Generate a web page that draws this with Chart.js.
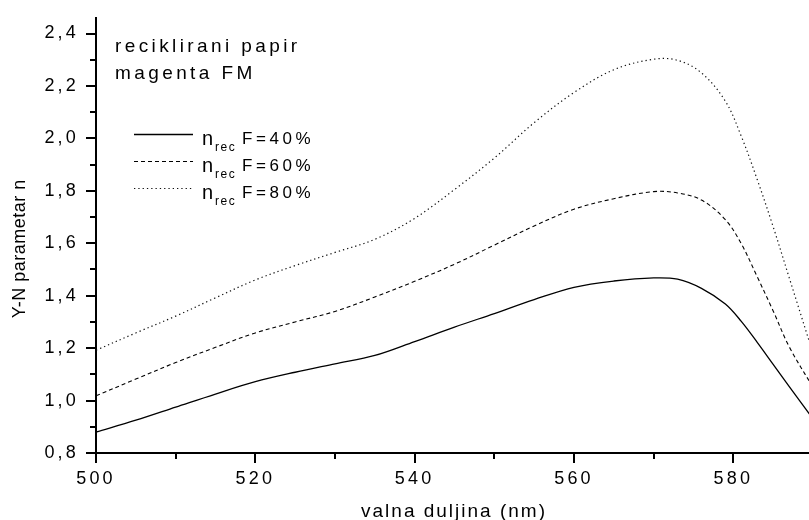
<!DOCTYPE html>
<html>
<head>
<meta charset="utf-8">
<script src="https://cdn.jsdelivr.net/npm/chart.js@4.4.1/dist/chart.umd.min.js"></script>
<style>
  html, body { margin: 0; padding: 0; background: #fff; overflow: hidden; }
  #graf { display: block; }
</style>
</head>
<body>
<canvas id="graf" width="813" height="520"></canvas>
<script>
  // valna duljina (nm)
  var valna = [500, 505, 510, 515, 520, 525, 530, 535, 540, 545, 550, 555, 560, 565, 570, 573, 576, 579, 581, 583, 585, 587, 590]

  // Y-N parametar n za F = 40%, 60%, 80%
  var n40 = [0.880, 0.925, 0.975, 1.025, 1.072, 1.108, 1.140, 1.172, 1.225, 1.280, 1.332, 1.385, 1.432, 1.456, 1.468, 1.463, 1.428, 1.368, 1.302, 1.222, 1.138, 1.054, 0.930]
  var n60 = [1.018, 1.082, 1.145, 1.203, 1.258, 1.300, 1.340, 1.395, 1.455, 1.520, 1.593, 1.666, 1.730, 1.770, 1.797, 1.792, 1.765, 1.690, 1.598, 1.472, 1.342, 1.206, 1.050]
  var n80 = [1.192, 1.258, 1.322, 1.392, 1.460, 1.515, 1.565, 1.615, 1.695, 1.805, 1.925, 2.060, 2.175, 2.262, 2.302, 2.298, 2.250, 2.142, 2.008, 1.843, 1.663, 1.470, 1.180]

  var oznake = ['F=40%', 'F=60%', 'F=80%']
  var naslov = ['reciklirani papir', 'magenta FM']

  var yGlavni = [0.8, 1.0, 1.2, 1.4, 1.6, 1.8, 2.0, 2.2, 2.4]
  var ySporedni = [0.9, 1.1, 1.3, 1.5, 1.7, 1.9, 2.1, 2.3]
  var xGlavni = [500, 520, 540, 560, 580]
  var xSporedni = [510, 530, 550, 570]

  var font = "'Liberation Sans', Arial, sans-serif"

  function tocke(niz) {
    return valna.map(function (x, i) { return { x: x, y: niz[i] } })
  }

  // sporedne crtice, legenda s indeksom "rec" i naslovi osi
  var dodaci = {
    id: 'dodaci',
    beforeDraw: function (chart) {
      chart.ctx.letterSpacing = '3.2px'
    },
    afterDraw: function (chart) {
      var ctx = chart.ctx
      var xs = chart.scales.x
      var ys = chart.scales.y
      var ca = chart.chartArea

      ctx.save()
      ctx.strokeStyle = '#000'
      ctx.lineWidth = 2
      ctx.setLineDash([])
      ctx.beginPath()
      xSporedni.forEach(function (v) {
        var px = Math.round(xs.getPixelForValue(v))
        ctx.moveTo(px, ca.bottom)
        ctx.lineTo(px, ca.bottom + 6)
      })
      ySporedni.forEach(function (v) {
        var py = Math.round(ys.getPixelForValue(v))
        ctx.moveTo(ca.left - 6, py)
        ctx.lineTo(ca.left, py)
      })
      ctx.stroke()

      // legenda
      ctx.fillStyle = '#000'
      ctx.textBaseline = 'alphabetic'
      ctx.textAlign = 'left'
      chart.data.datasets.forEach(function (ds, i) {
        var y = 134.5 + 27 * i
        ctx.strokeStyle = ds.borderColor
        ctx.lineWidth = ds.borderWidth
        ctx.setLineDash(ds.borderDash || [])
        ctx.beginPath()
        ctx.moveTo(134, y)
        ctx.lineTo(193, y)
        ctx.stroke()

        ctx.letterSpacing = '0px'
        ctx.font = '20px ' + font
        ctx.fillText('n', 202, y + 10)
        ctx.letterSpacing = '1.5px'
        ctx.font = '12px ' + font
        ctx.fillText('rec', 215, y + 16)
        ctx.letterSpacing = '3.6px'
        ctx.font = '17px ' + font
        ctx.fillText(oznake[i], 242, y + 9.5)
      })
      ctx.setLineDash([])

      // tekst u kutu
      ctx.letterSpacing = '3.4px'
      ctx.font = '19px ' + font
      ctx.fillText(naslov[0], 115, 52)
      ctx.fillText(naslov[1], 115, 79)

      // naslov x osi
      ctx.letterSpacing = '2px'
      ctx.font = '19px ' + font
      ctx.textAlign = 'center'
      ctx.fillText('valna duljina (nm)', 454, 516.5)

      // naslov y osi
      ctx.translate(24.5, 249)
      ctx.rotate(-Math.PI / 2)
      ctx.letterSpacing = '0.5px'
      ctx.font = '18px ' + font
      ctx.fillText('Y-N parametar n', 0.3, 0)
      ctx.restore()
    }
  }

  var data = {
    datasets: [{
      label: 'n rec F=40%',
      data: tocke(n40),
      borderColor: '#000',
      borderWidth: 1.3
    },
    {
      label: 'n rec F=60%',
      data: tocke(n60),
      borderColor: '#000',
      borderWidth: 1.1,
      borderDash: [4, 3]
    },
    {
      label: 'n rec F=80%',
      data: tocke(n80),
      borderColor: '#111',
      borderWidth: 1.2,
      borderDash: [1.3, 3]
    }]
  }

  var config = {
    type: 'line',
    data: data,
    options: {
      responsive: false,
      animation: false,
      devicePixelRatio: 1,
      layout: { padding: { top: 16, right: 0, bottom: 0, left: 0 } },
      elements: {
        point: { radius: 0 },
        line: { tension: 0.35, fill: false }
      },
      plugins: {
        legend: { display: false },
        tooltip: { enabled: false }
      },
      scales: {
        x: {
          type: 'linear',
          min: 500,
          max: 590,
          afterBuildTicks: function (scale) {
            scale.ticks = xGlavni.map(function (v) { return { value: v } })
          },
          afterFit: function (scale) { scale.height = 67 },
          grid: { drawOnChartArea: false, drawTicks: true, tickLength: 10, color: '#000', lineWidth: 2 },
          border: { display: true, color: '#000', width: 2 },
          ticks: {
            color: '#000',
            padding: 5,
            maxRotation: 0,
            font: { size: 18, family: font },
            callback: function (v) { return String(v) }
          }
        },
        y: {
          type: 'linear',
          min: 0.8,
          max: 2.46,
          afterBuildTicks: function (scale) {
            scale.ticks = yGlavni.map(function (v) { return { value: v } })
          },
          afterFit: function (scale) { scale.width = 96 },
          grid: { drawOnChartArea: false, drawTicks: true, tickLength: 10, color: '#000', lineWidth: 2 },
          border: { display: true, color: '#000', width: 2 },
          ticks: {
            color: '#000',
            padding: 7,
            font: { size: 18, family: font },
            callback: function (v) { return Number(v).toFixed(1).replace('.', ',') }
          }
        }
      }
    },
    plugins: [dodaci]
  }

  var grafikon = new Chart(document.getElementById('graf'), config)
</script>
</body>
</html>
